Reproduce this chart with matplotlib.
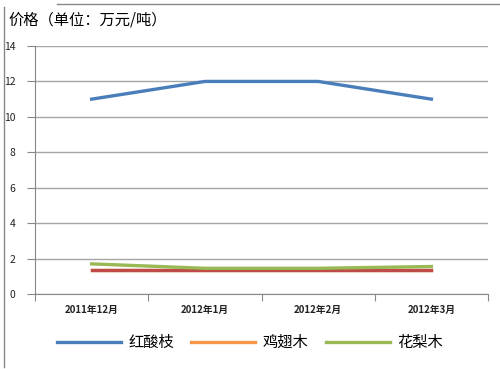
import numpy as np
import matplotlib
matplotlib.use("Agg")
import matplotlib.pyplot as plt
from matplotlib.lines import Line2D

plt.rcParams['font.family'] = ['Noto Sans CJK SC', 'DejaVu Sans']

months = ["2011年12月", "2012年1月", "2012年2月", "2012年3月"]
hongsuanzhi = [11, 12, 12, 11]
jichimu = [1.35, 1.35, 1.35, 1.35]
jichimu_overlay = [1.35, 1.35, 1.35, 1.35]
hualimu = [1.7, 1.45, 1.45, 1.55]
y_ticks = [0, 2, 4, 6, 8, 10, 12, 14]

fig = plt.figure(figsize=(5, 3.69), dpi=100)
ax = fig.add_axes([0.07, 0.2033, 0.906, 0.672])

x = np.arange(len(months))
ax.plot(x, hongsuanzhi, color="#4A7EBB", lw=2.4, label="红酸枝", zorder=3)
ax.plot(x, jichimu, color="#F79646", lw=2.4, label="鸡翅木", zorder=3)
ax.plot(x, jichimu_overlay, color="#BE4B48", lw=2.4, zorder=3)
ax.plot(x, hualimu, color="#98B954", lw=2.4, label="花梨木", zorder=4)

ax.set_xlim(-0.5, len(months) - 0.5)
ax.set_ylim(0, 14)
ax.set_yticks(y_ticks)
ax.yaxis.grid(True, color="#a6a6a6", lw=1)
ax.set_axisbelow(True)

ax.set_xticks(np.arange(-0.5, len(months), 1.0))
ax.set_xticklabels([])
ax.set_xticks(x, minor=True)
ax.set_xticklabels(months, minor=True, fontsize=7, fontweight="bold", color="#222222")
ax.tick_params(axis="x", which="minor", length=0, pad=8)
ax.tick_params(axis="x", which="major", length=5, color="#888888", direction="out")
ax.tick_params(axis="y", length=6, color="#888888", labelsize=7.5, pad=8)
for lab in ax.get_yticklabels():
    lab.set_color("#222222")

for s in ["top", "right"]:
    ax.spines[s].set_visible(False)
for s in ["left", "bottom"]:
    ax.spines[s].set_color("#888888")

fig.text(0.016, 0.945, "价格（单位：万元/吨）", fontsize=11, va="center", ha="left")

# chart frame remnants
fig.add_artist(Line2D([0.008, 0.008], [0.005, 0.98], color="#888888", lw=1))
fig.add_artist(Line2D([0.114, 1.0], [0.989, 0.989], color="#888888", lw=1))

fig.legend(loc="center", bbox_to_anchor=(0.5, 0.072), ncol=3, frameon=False,
           fontsize=11, handlelength=4.2, columnspacing=1.1, handletextpad=0.5)

fig.savefig("out.png", dpi=100)
